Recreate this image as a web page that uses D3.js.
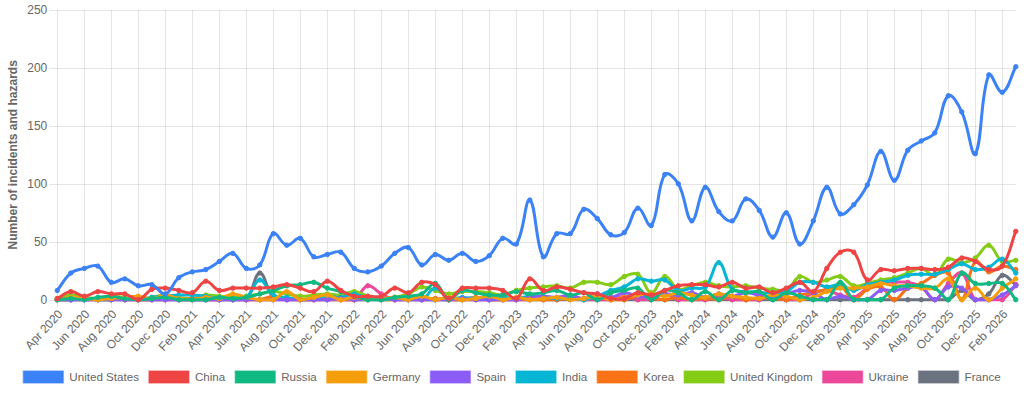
<!DOCTYPE html>
<html>
<head>
<meta charset="utf-8">
<script src="https://cdn.jsdelivr.net/npm/d3@7/dist/d3.min.js"></script>
<style>
  html, body { margin: 0; padding: 0; background: #fff; }
  svg { display: block; font-family: 'Liberation Sans', Arial, Helvetica, sans-serif; }
</style>
</head>
<body>
<svg id="chart" width="1024" height="393"></svg>
<script>
'use strict';

// ── Data ────────────────────────────────────────────────────────────────────

var MONTHS = [
  'Apr 2020', 'May 2020', 'Jun 2020', 'Jul 2020', 'Aug 2020', 'Sep 2020', 'Oct 2020', 'Nov 2020', 'Dec 2020',
  'Jan 2021', 'Feb 2021', 'Mar 2021', 'Apr 2021', 'May 2021', 'Jun 2021', 'Jul 2021', 'Aug 2021', 'Sep 2021',
  'Oct 2021', 'Nov 2021', 'Dec 2021', 'Jan 2022', 'Feb 2022', 'Mar 2022', 'Apr 2022', 'May 2022', 'Jun 2022',
  'Jul 2022', 'Aug 2022', 'Sep 2022', 'Oct 2022', 'Nov 2022', 'Dec 2022', 'Jan 2023', 'Feb 2023', 'Mar 2023',
  'Apr 2023', 'May 2023', 'Jun 2023', 'Jul 2023', 'Aug 2023', 'Sep 2023', 'Oct 2023', 'Nov 2023', 'Dec 2023',
  'Jan 2024', 'Feb 2024', 'Mar 2024', 'Apr 2024', 'May 2024', 'Jun 2024', 'Jul 2024', 'Aug 2024', 'Sep 2024',
  'Oct 2024', 'Nov 2024', 'Dec 2024', 'Jan 2025', 'Feb 2025', 'Mar 2025', 'Apr 2025', 'May 2025', 'Jun 2025',
  'Jul 2025', 'Aug 2025', 'Sep 2025', 'Oct 2025', 'Nov 2025', 'Dec 2025', 'Jan 2026', 'Feb 2026', 'Mar 2026'
];

var Y_TICKS = [0, 50, 100, 150, 200, 250];

var COUNTRIES = ['United States', 'China', 'Russia', 'Germany', 'Spain', 'India', 'Korea', 'United Kingdom', 'Ukraine', 'France'];
var COLORS = ['#3b82f6', '#ef4444', '#10b981', '#f59e0b', '#8b5cf6', '#06b6d4', '#f97316', '#84cc16', '#ec4899', '#6b7280'];

var US = [8, 23, 27, 29, 15, 18, 12, 13, 5, 19, 24, 26, 33, 40, 27, 30, 57, 47, 53, 37, 39, 41, 27, 24,
  29, 40, 45, 30, 39, 34, 40, 33, 38, 53, 48, 86, 37, 57, 57, 78, 70, 56, 58, 79, 64, 108, 100, 68,
  97, 76, 68, 87, 77, 54, 75, 48, 68, 97, 74, 82, 99, 128, 103, 129, 137, 144, 176, 162, 126, 194, 179, 201];
var CHINA = [1, 7, 3, 7, 5, 5, 0, 9, 10, 8, 6, 16, 8, 10, 10, 10, 11, 13, 10, 7, 16, 8, 3, 3,
  3, 10, 6, 15, 13, 1, 10, 10, 10, 8, 1, 18, 8, 11, 9, 6, 5, 1, 1, 6, 4, 8, 12, 13,
  13, 11, 15, 10, 11, 6, 10, 15, 7, 27, 41, 41, 17, 26, 25, 27, 27, 26, 28, 36, 33, 26, 29, 59];
var RUSSIA = [0, 1, 0, 2, 3, 1, 0, 1, 2, 0, 0, 0, 2, 1, 2, 5, 8, 12, 13, 15, 10, 7, 3, 0,
  0, 2, 3, 5, 14, 0, 8, 6, 4, 4, 7, 5, 6, 8, 4, 6, 0, 6, 8, 10, 0, 8, 6, 0,
  7, 0, 8, 6, 7, 0, 6, 3, 0, 0, 15, 0, 0, 0, 10, 12, 12, 10, 0, 23, 14, 14, 14, 0];
var GERMANY = [0, 2, 1, 0, 1, 2, 3, 1, 4, 1, 0, 2, 1, 5, 2, 0, 0, 7, 0, 2, 4, 0, 2, 0,
  1, 2, 0, 3, 0, 2, 0, 1, 3, 0, 2, 0, 1, 2, 0, 1, 3, 0, 2, 4, 5, 3, 6, 4,
  2, 5, 3, 2, 1, 4, 3, 0, 2, 7, 10, 10, 11, 14, 12, 12, 10, 10, 18, 0, 10, 0, 10, 18];
var SPAIN = [0, 0, 0, 0, 0, 0, 0, 0, 0, 0, 0, 0, 0, 0, 0, 0, 0, 0, 0, 0, 0, 1, 0, 0,
  2, 0, 0, 0, 0, 0, 1, 0, 0, 0, 0, 2, 3, 2, 4, 1, 5, 2, 6, 3, 2, 5, 4, 6,
  2, 5, 3, 6, 4, 2, 5, 8, 6, 0, 3, 0, 0, 8, 8, 10, 11, 0, 11, 10, 0, 0, 4, 12];
var INDIA = [0, 0, 1, 0, 0, 1, 0, 2, 3, 4, 4, 3, 1, 0, 2, 17, 4, 2, 0, 1, 3, 2, 5, 1,
  0, 1, 2, 0, 10, 1, 2, 1, 0, 2, 1, 3, 2, 1, 1, 0, 3, 8, 11, 18, 16, 17, 8, 10,
  11, 32, 9, 7, 6, 6, 7, 15, 15, 11, 13, 8, 13, 15, 17, 21, 22, 22, 26, 31, 26, 28, 35, 23];
var KOREA = [0, 0, 1, 0, 0, 1, 0, 0, 2, 0, 1, 0, 0, 1, 0, 0, 3, 1, 0, 0, 2, 0, 0, 1,
  0, 0, 2, 0, 1, 0, 0, 2, 0, 0, 1, 0, 0, 0, 1, 0, 2, 0, 0, 3, 1, 0, 2, 0,
  1, 0, 3, 0, 2, 1, 0, 4, 6, 9, 12, 0, 9, 11, 0, 10, 14, 21, 23, 0, 33, 24, 29, 26];
var UK = [1, 4, 2, 1, 3, 2, 0, 2, 4, 2, 1, 4, 3, 2, 3, 5, 7, 5, 3, 4, 5, 4, 7, 3,
  1, 2, 5, 11, 8, 5, 7, 7, 6, 4, 8, 10, 11, 12, 10, 15, 15, 13, 20, 22, 6, 20, 9, 12,
  15, 12, 11, 12, 10, 9, 8, 20, 15, 17, 20, 12, 14, 17, 19, 23, 27, 21, 35, 32, 36, 47, 33, 34];
var UKRAINE = [0, 0, 0, 0, 1, 0, 0, 0, 0, 0, 0, 0, 0, 0, 0, 0, 0, 0, 0, 0, 0, 0, 0, 12,
  5, 0, 0, 0, 0, 0, 0, 0, 0, 0, 0, 0, 1, 0, 2, 0, 0, 0, 3, 0, 0, 5, 0, 0,
  0, 2, 0, 0, 0, 3, 0, 0, 6, 8, 4, 2, 10, 15, 15, 15, 11, 0, 14, 23, 0, 0, 0, 13];
var FRANCE = [0, 0, 0, 0, 0, 0, 0, 0, 0, 0, 0, 0, 0, 0, 0, 23, 2, 0, 0, 0, 0, 0, 0, 0,
  0, 0, 0, 0, 0, 0, 0, 0, 0, 0, 0, 0, 0, 0, 0, 0, 0, 0, 0, 0, 0, 0, 0, 0,
  0, 0, 0, 0, 0, 0, 0, 0, 0, 0, 0, 0, 0, 0, 0, 0, 0, 0, 0, 8, 0, 5, 21, 13];

var SERIES = [US, CHINA, RUSSIA, GERMANY, SPAIN, INDIA, KOREA, UK, UKRAINE, FRANCE];

(function () {
  var W = 1024;
  var LEFT = 57.3, RIGHT = 1015.8, TOP = 10, BOTTOM = 299.7;
  var GRID = 'rgba(0,0,0,0.1)';
  var TEXT = '#666';
  var TICK_LEN = 8;

  var svg = d3.select('#chart');

  var x = d3.scalePoint().domain(d3.range(MONTHS.length)).range([LEFT, RIGHT]);
  var y = d3.scaleLinear().domain([0, 250]).range([BOTTOM, TOP]);

  // ── Grid ──────────────────────────────────────────────────────────────────

  var grid = svg.append('g');
  grid.selectAll('line.h')
    .data(Y_TICKS)
    .join('line')
    .attr('class', 'h')
    .attr('x1', LEFT - TICK_LEN).attr('x2', RIGHT)
    .attr('y1', function (d) { return Math.round(y(d)) + 0.5; })
    .attr('y2', function (d) { return Math.round(y(d)) + 0.5; })
    .attr('stroke', GRID).attr('stroke-width', 1);

  var xTicks = d3.range(0, MONTHS.length, 2);
  grid.selectAll('line.v')
    .data(xTicks)
    .join('line')
    .attr('class', 'v')
    .attr('x1', function (d) { return Math.round(x(d)) + 0.5; })
    .attr('x2', function (d) { return Math.round(x(d)) + 0.5; })
    .attr('y1', TOP).attr('y2', BOTTOM + TICK_LEN)
    .attr('stroke', GRID).attr('stroke-width', 1);

  // ── Axis labels ───────────────────────────────────────────────────────────

  svg.append('g').selectAll('text')
    .data(Y_TICKS)
    .join('text')
    .attr('x', LEFT - TICK_LEN - 2)
    .attr('y', function (d) { return y(d); })
    .attr('dy', '0.35em')
    .attr('text-anchor', 'end')
    .attr('font-size', 12)
    .attr('fill', TEXT)
    .text(function (d) { return d; });

  svg.append('g').selectAll('text')
    .data(xTicks)
    .join('text')
    .attr('transform', function (d) { return 'translate(' + (x(d) + 3) + ',' + (BOTTOM + 12) + ') rotate(-47)'; })
    .attr('dy', '0.35em')
    .attr('text-anchor', 'end')
    .attr('font-size', 12)
    .attr('fill', TEXT)
    .text(function (d) { return MONTHS[d]; });

  svg.append('text')
    .attr('transform', 'translate(13,' + ((TOP + BOTTOM) / 2) + ') rotate(-90)')
    .attr('dy', '0.35em')
    .attr('text-anchor', 'middle')
    .attr('font-size', 12)
    .attr('font-weight', 'bold')
    .attr('fill', TEXT)
    .text('Number of incidents and hazards');

  // ── Lines (Chart.js style spline, tension 0.4) ────────────────────────────

  function splinePath(pts, t) {
    var clampY = function (v) { return Math.max(TOP, Math.min(BOTTOM, v)); };
    var cps = pts.map(function (cur, i) {
      var prev = pts[i - 1] || cur, next = pts[i + 1] || cur;
      var d01 = Math.hypot(cur[0] - prev[0], cur[1] - prev[1]);
      var d12 = Math.hypot(next[0] - cur[0], next[1] - cur[1]);
      var s01 = d01 / (d01 + d12), s12 = d12 / (d01 + d12);
      s01 = isNaN(s01) ? 0 : s01;
      s12 = isNaN(s12) ? 0 : s12;
      var fa = t * s01, fb = t * s12;
      return {
        px: cur[0] - fa * (next[0] - prev[0]), py: clampY(cur[1] - fa * (next[1] - prev[1])),
        nx: cur[0] + fb * (next[0] - prev[0]), ny: clampY(cur[1] + fb * (next[1] - prev[1]))
      };
    });
    var p = d3.path();
    p.moveTo(pts[0][0], pts[0][1]);
    for (var i = 1; i < pts.length; i++) {
      p.bezierCurveTo(cps[i - 1].nx, cps[i - 1].ny, cps[i].px, cps[i].py, pts[i][0], pts[i][1]);
    }
    return p.toString();
  }

  var plot = svg.append('g');
  // Chart.js paints the first dataset last, so it sits on top
  d3.range(SERIES.length).reverse().forEach(function (s) {
    var pts = SERIES[s].map(function (v, i) { return [x(i), y(v)]; });
    var g = plot.append('g');
    g.append('path')
      .attr('d', splinePath(pts, 0.4))
      .attr('fill', 'none')
      .attr('stroke', COLORS[s])
      .attr('stroke-width', 3)
      .attr('stroke-linejoin', 'round');
    g.selectAll('circle')
      .data(pts)
      .join('circle')
      .attr('cx', function (d) { return d[0]; })
      .attr('cy', function (d) { return d[1]; })
      .attr('r', 2.2)
      .attr('fill', COLORS[s])
      .attr('stroke', COLORS[s])
      .attr('stroke-width', 1);
  });

  // ── Legend ────────────────────────────────────────────────────────────────

  var BOX_W = 40, BOX_H = 12, PAD = 10, LEG_Y = 377;
  var legend = svg.append('g');
  var items = legend.selectAll('g')
    .data(COUNTRIES)
    .join('g');
  items.append('rect')
    .attr('width', BOX_W).attr('height', BOX_H)
    .attr('y', LEG_Y - BOX_H / 2)
    .attr('fill', function (d, i) { return COLORS[i]; })
    .attr('stroke', function (d, i) { return COLORS[i]; })
    .attr('stroke-opacity', 0.5)
    .attr('stroke-width', 1.5);
  items.append('text')
    .attr('x', BOX_W + 6)
    .attr('y', LEG_Y)
    .attr('dy', '0.35em')
    .attr('font-size', 11.6)
    .attr('fill', TEXT)
    .text(function (d) { return d; });

  var widths = [];
  items.each(function () {
    widths.push(BOX_W + 6 + this.querySelector('text').getComputedTextLength());
  });
  var total = d3.sum(widths) + PAD * (widths.length - 1);
  var cx = (W - total) / 2;
  items.each(function (d, i) {
    d3.select(this).attr('transform', 'translate(' + cx + ',0)');
    cx += widths[i] + PAD;
  });
})();
</script>
</body>
</html>
